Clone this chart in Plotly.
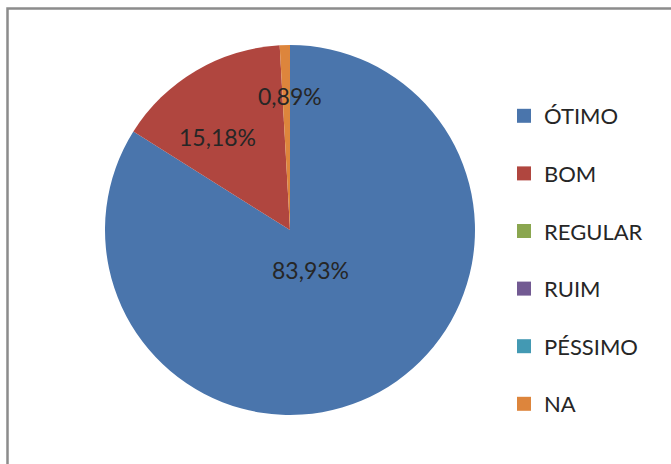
import math
import plotly.graph_objects as go

# ---- data ----
labels = ["ÓTIMO", "BOM", "REGULAR", "RUIM", "PÉSSIMO", "NA"]
values = [83.93, 15.18, 0.0, 0.0, 0.0, 0.89]
colors = ["#4A75AC", "#B0463F", "#8AA64F", "#725A92", "#4399B3", "#DD853C"]

# ---- layout constants (pixels) ----
W, H = 671, 464
CX, CY, R = 290, 230, 185
label_radius = [0.25, 0.64, 0, 0, 0, 0.72]
label_nudge = [(-2, 0), (-12, 9), (0, 0), (0, 0), (0, 0), (4, -1)]
FONT = "Lato, 'Open Sans', sans-serif"

fig = go.Figure()
fig.add_trace(go.Pie(
    labels=labels, values=values, sort=False, direction="clockwise", rotation=0,
    marker=dict(colors=colors, line=dict(width=0)),
    textinfo="none", hoverinfo="label+percent", showlegend=False,
    domain=dict(x=[(CX - R) / W, (CX + R) / W], y=[(H - CY - R) / H, (H - CY + R) / H]),
))

# legend via per-category marker traces
for lab, col in zip(labels, colors):
    fig.add_trace(go.Scatter(
        x=[None], y=[None], mode="markers", name=lab, legendgroup=lab,
        marker=dict(symbol="square", size=14, color=col),
    ))

# percentage labels computed from values
total = sum(values)
cum = 0.0
annotations = []
for v, rf, (nx, ny) in zip(values, label_radius, label_nudge):
    if v > 0:
        mid = (cum + v / 2) / total * 2 * math.pi
        px = CX + math.sin(mid) * R * rf + nx
        py = CY - math.cos(mid) * R * rf + ny
        txt = f"{v / total * 100:.2f}%".replace(".", ",")
        annotations.append(dict(
            x=px / W, y=1 - py / H, xref="paper", yref="paper", text=txt,
            showarrow=False, font=dict(family=FONT, size=23, color="#262626"),
            xanchor="center", yanchor="middle",
        ))
    cum += v

fig.update_layout(
    width=W, height=H,
    margin=dict(l=0, r=0, t=0, b=0),
    paper_bgcolor="white", plot_bgcolor="white",
    xaxis=dict(visible=False), yaxis=dict(visible=False),
    annotations=annotations,
    legend=dict(
        x=504 / W, y=1 - 95 / H, xanchor="left", yanchor="top",
        font=dict(family=FONT, size=22, color="#262626"),
        tracegroupgap=26, itemwidth=30, bgcolor="rgba(0,0,0,0)",
    ),
    shapes=[dict(type="rect", xref="paper", yref="paper",
                 x0=7.5 / W, x1=1.05, y0=-0.05, y1=1 - 8.5 / H,
                 line=dict(color="#8C8C8C", width=2.5))],
)

fig.write_html("out.html", config={"displayModeBar": False},
               post_script="document.body.style.margin='0';")
